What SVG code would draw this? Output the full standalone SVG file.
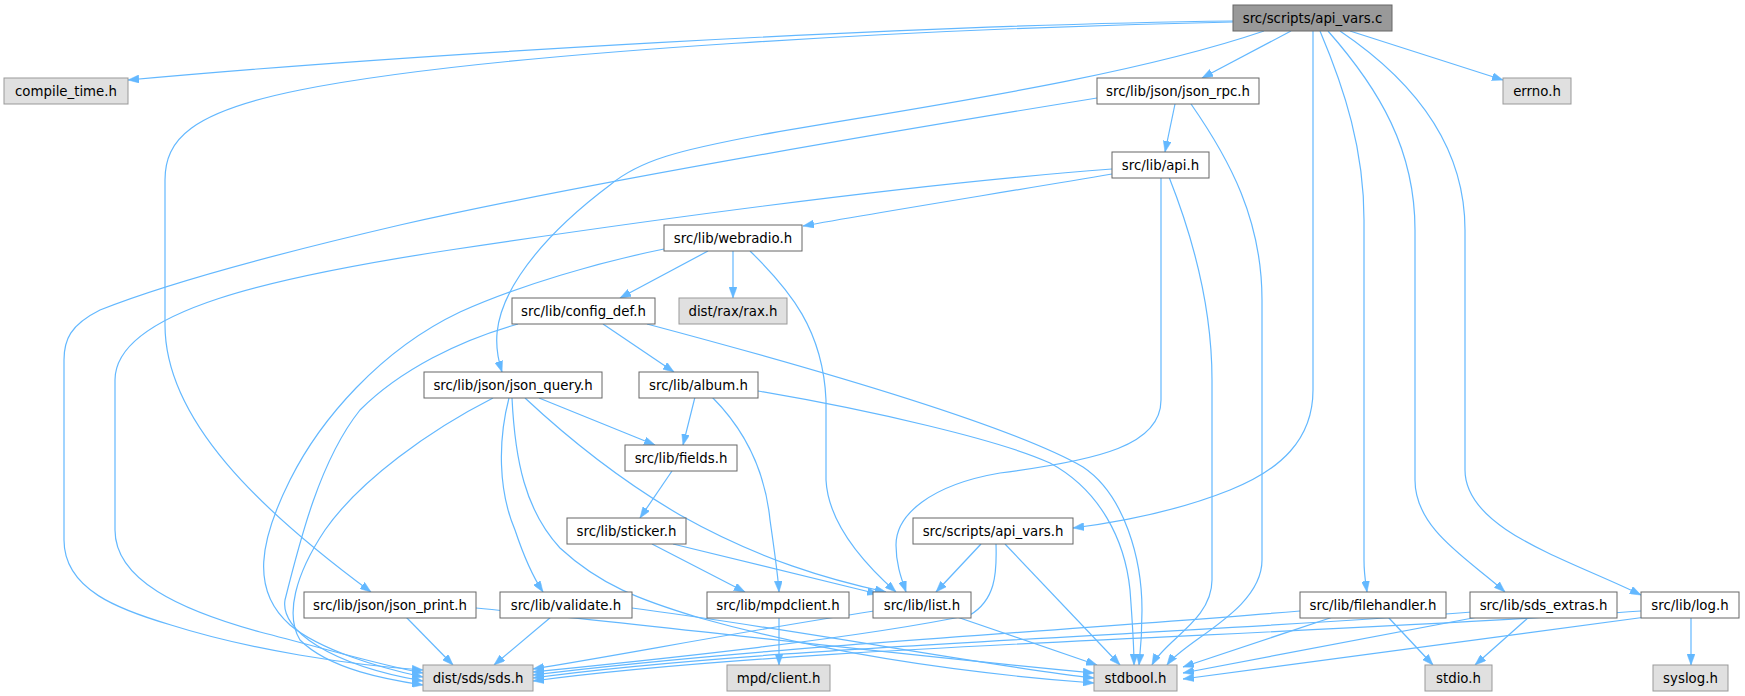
<svg xmlns="http://www.w3.org/2000/svg" width="1745" height="696" viewBox="0 0 1745 696">
<style>
.n rect{fill:#ffffff;stroke:#666666;stroke-width:1}
.x rect{fill:#e0e0e0;stroke:#999999;stroke-width:1}
.r rect{fill:#999999;stroke:#666666;stroke-width:1}
text{font-family:"DejaVu Sans","Liberation Sans",sans-serif;font-size:13.33px;fill:#000000;text-anchor:middle}
#edges path{fill:none;stroke:#63b8ff;stroke-width:1.2;marker-end:url(#ah)}
</style>
<defs>
<marker id="ah" markerUnits="userSpaceOnUse" viewBox="0 0 11 8" refX="11" refY="4" markerWidth="11" markerHeight="8" orient="auto">
<path d="M0,0 L11,4 L0,8 z" fill="#63b8ff" stroke="#63b8ff" stroke-width="0.5"/>
</marker>
</defs>
<rect width="1745" height="696" fill="#ffffff"/>
<g id="edges">
<path d="M1233,21 C900,25 400,55 128,80"/>
<path d="M1233,22 C950,28 500,50 300,90 C190,112 165,140 165,180 L165,325 C165,420 260,510 371,592"/>
<path d="M1264,31 C1120,80 900,110 760,135 C680,150 640,160 610,185 C570,215 540,245 520,275 C490,320 495,350 502,372"/>
<path d="M1291,31 L1202,78"/>
<path d="M1313,31 L1313,390 C1313,440 1280,470 1230,490 C1180,510 1120,522 1073,528"/>
<path d="M1320,31 C1345,90 1364,150 1364,220 L1364,560 C1364,575 1366,585 1367,592"/>
<path d="M1328,31 C1380,90 1415,150 1415,230 L1415,480 C1415,530 1470,560 1505,592"/>
<path d="M1340,31 C1420,85 1465,150 1465,230 L1465,470 C1465,530 1570,560 1641,595"/>
<path d="M1350,31 L1503,80"/>
<path d="M1175,104 L1165,152"/>
<path d="M1097,98 C900,130 600,180 400,225 C250,260 150,290 100,310 C70,325 64,340 64,360 L64,540 C64,590 120,610 171,625 C250,650 350,665 423,670"/>
<path d="M1191,104 C1230,160 1262,220 1262,300 L1262,560 C1262,610 1185,640 1167,665"/>
<path d="M1112,174 C1000,193 880,212 803,226"/>
<path d="M1112,169 C900,185 650,220 450,250 C280,276 115,310 115,380 L115,530 C115,580 180,610 260,632 C330,650 380,665 423,673"/>
<path d="M1161,177 L1161,400 C1161,445 1100,460 1000,473 C930,485 896,515 896,545 C896,565 902,580 906,592"/>
<path d="M1169,177 C1190,230 1212,300 1212,380 L1212,580 C1212,620 1165,640 1152,665"/>
<path d="M708,251 L620,298"/>
<path d="M733,251 L733,298"/>
<path d="M664,249 C600,262 520,285 460,312 C380,350 320,420 290,480 C260,540 250,590 290,625 C320,650 380,668 423,677"/>
<path d="M750,251 C790,290 823,330 826,400 L826,480 C828,520 860,560 896,592"/>
<path d="M603,324 L674,372"/>
<path d="M518,324 C460,340 400,370 360,410 C320,460 300,540 285,600 C280,630 330,665 423,681"/>
<path d="M647,324 C820,370 1010,425 1083,467 C1125,495 1142,560 1142,610 C1142,640 1140,655 1139,665"/>
<path d="M695,397 L683,445"/>
<path d="M712,397 C745,430 765,470 770,520 C775,555 778,575 779,592"/>
<path d="M758,391 C870,410 1000,440 1050,463 C1100,490 1125,540 1130,590 C1133,630 1134,650 1134,665"/>
<path d="M539,398 L655,445"/>
<path d="M525,398 C570,440 620,480 680,515 C760,560 830,580 886,592"/>
<path d="M509,398 C498,440 498,490 515,530 C525,560 535,580 543,592"/>
<path d="M493,398 C430,430 360,480 325,530 C295,575 285,615 300,640 C330,670 390,680 423,685"/>
<path d="M512,398 C515,460 525,510 560,548 C600,585 640,600 700,618 C850,660 1000,676 1094,683"/>
<path d="M672,471 L640,518"/>
<path d="M652,544 L745,592"/>
<path d="M673,544 L878,594"/>
<path d="M779,617 L779,665"/>
<path d="M406,617 L453,665"/>
<path d="M476,608 C650,625 900,655 1094,673"/>
<path d="M551,617 L494,665"/>
<path d="M632,608 C800,630 1000,668 1094,678"/>
<path d="M874,611 C750,630 620,655 533,669"/>
<path d="M957,617 L1097,665"/>
<path d="M981,544 L936,592"/>
<path d="M996,544 C997,575 995,600 970,615 C850,640 650,660 533,672"/>
<path d="M1005,544 L1120,665"/>
<path d="M1300,611 C1050,632 750,648 533,675"/>
<path d="M1333,617 L1183,667"/>
<path d="M1388,617 L1433,665"/>
<path d="M1472,612 C1150,636 750,648 533,678"/>
<path d="M1478,617 L1183,673"/>
<path d="M1529,617 L1475,665"/>
<path d="M1641,611 C1300,636 800,645 533,681"/>
<path d="M1646,617 L1183,679"/>
<path d="M1691,617 L1691,665"/>
</g>
<g id="api_vars_c" class="r"><rect x="1233" y="5" width="159" height="26"/><text x="1312.5" y="22.7">src/scripts/api_vars.c</text></g>
<g id="compile_time_h" class="x"><rect x="4" y="78" width="124" height="26"/><text x="66" y="95.7">compile_time.h</text></g>
<g id="json_rpc_h" class="n"><rect x="1097" y="78" width="162" height="26"/><text x="1178" y="95.7">src/lib/json/json_rpc.h</text></g>
<g id="errno_h" class="x"><rect x="1503" y="78" width="68" height="26"/><text x="1537" y="95.7">errno.h</text></g>
<g id="api_h" class="n"><rect x="1112" y="152" width="97" height="26"/><text x="1160.5" y="169.7">src/lib/api.h</text></g>
<g id="webradio_h" class="n"><rect x="664" y="225" width="138" height="26"/><text x="733" y="242.7">src/lib/webradio.h</text></g>
<g id="config_def_h" class="n"><rect x="512" y="298" width="143" height="26"/><text x="583.5" y="315.7">src/lib/config_def.h</text></g>
<g id="rax_h" class="x"><rect x="679" y="298" width="108" height="26"/><text x="733" y="315.7">dist/rax/rax.h</text></g>
<g id="json_query_h" class="n"><rect x="424" y="372" width="178" height="26"/><text x="513" y="389.7">src/lib/json/json_query.h</text></g>
<g id="album_h" class="n"><rect x="639" y="372" width="119" height="26"/><text x="698.5" y="389.7">src/lib/album.h</text></g>
<g id="fields_h" class="n"><rect x="625" y="445" width="112" height="26"/><text x="681" y="462.7">src/lib/fields.h</text></g>
<g id="sticker_h" class="n"><rect x="567" y="518" width="119" height="26"/><text x="626.5" y="535.7">src/lib/sticker.h</text></g>
<g id="api_vars_h" class="n"><rect x="913" y="518" width="160" height="26"/><text x="993" y="535.7">src/scripts/api_vars.h</text></g>
<g id="json_print_h" class="n"><rect x="304" y="592" width="172" height="26"/><text x="390" y="609.7">src/lib/json/json_print.h</text></g>
<g id="validate_h" class="n"><rect x="500" y="592" width="132" height="26"/><text x="566" y="609.7">src/lib/validate.h</text></g>
<g id="mpdclient_h" class="n"><rect x="707" y="592" width="142" height="26"/><text x="778" y="609.7">src/lib/mpdclient.h</text></g>
<g id="list_h" class="n"><rect x="873" y="592" width="98" height="26"/><text x="922" y="609.7">src/lib/list.h</text></g>
<g id="filehandler_h" class="n"><rect x="1300" y="592" width="146" height="26"/><text x="1373" y="609.7">src/lib/filehandler.h</text></g>
<g id="sds_extras_h" class="n"><rect x="1470" y="592" width="147" height="26"/><text x="1543.5" y="609.7">src/lib/sds_extras.h</text></g>
<g id="log_h" class="n"><rect x="1641" y="592" width="98" height="26"/><text x="1690" y="609.7">src/lib/log.h</text></g>
<g id="sds_h" class="x"><rect x="423" y="665" width="110" height="26"/><text x="478" y="682.7">dist/sds/sds.h</text></g>
<g id="mpd_client_h" class="x"><rect x="727" y="665" width="103" height="26"/><text x="778.5" y="682.7">mpd/client.h</text></g>
<g id="stdbool_h" class="x"><rect x="1094" y="665" width="83" height="26"/><text x="1135.5" y="682.7">stdbool.h</text></g>
<g id="stdio_h" class="x"><rect x="1425" y="665" width="67" height="26"/><text x="1458.5" y="682.7">stdio.h</text></g>
<g id="syslog_h" class="x"><rect x="1653" y="665" width="75" height="26"/><text x="1690.5" y="682.7">syslog.h</text></g>
</svg>
